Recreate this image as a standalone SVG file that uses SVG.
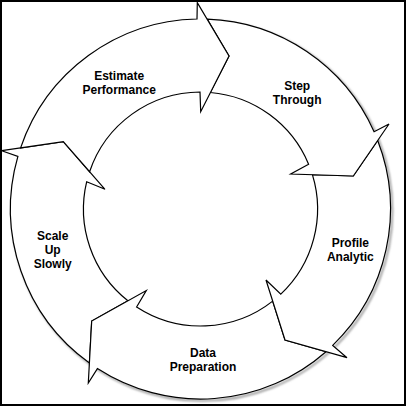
<svg xmlns="http://www.w3.org/2000/svg" width="406" height="406" viewBox="0 0 406 406">
<style>
.seg{fill:#fff;stroke:#000;stroke-width:1.2;stroke-linejoin:miter}
.lbl{font-family:"Liberation Sans",Arial,sans-serif;font-size:12px;font-weight:bold;text-anchor:middle;fill:#000}
</style>
<defs>
<filter id="blur" x="-10%" y="-10%" width="120%" height="120%"><feGaussianBlur stdDeviation="0.8"/></filter>
</defs>
<rect x="0" y="0" width="406" height="406" fill="#fff"/>
<circle cx="202.3" cy="210.8" r="190" fill="none" stroke="#999" stroke-width="2" filter="url(#blur)"/>
<g id="connectors">
<g id="scale-up-slowly">
<path class="seg" d="M 89.4,363.1 A 190 190 0 0 1 17.9,156.4 L 1.7,150.7 L 63.3,141.7 L 105,189.3 L 86.7,181.7 A 117 117 0 0 0 127.9,300.8 L 91.7,321 Z"/>
<text class="lbl" x="52.7" y="240.3">Scale</text>
<text class="lbl" x="52.7" y="254.3">Up</text>
<text class="lbl" x="52.7" y="268.3">Slowly</text>
</g>
<g id="data-preparation">
<path class="seg" d="M 326,351.7 A 190 190 0 0 1 97.4,368.6 L 88.3,383 L 91.7,321 L 146.3,290.5 L 136.6,307 A 117 117 0 0 0 272.7,301.1 L 285,340 Z"/>
<text class="lbl" x="203" y="356.8">Data</text>
<text class="lbl" x="203" y="370.8">Preparation</text>
</g>
<g id="profile-analytic">
<path class="seg" d="M 377.7,140.5 A 190 190 0 0 1 332.7,345.4 L 347,357.7 L 285,340 L 266,280 L 280.8,294.1 A 117 117 0 0 0 312.4,174.6 L 353.3,176 Z"/>
<text class="lbl" x="350.3" y="246.5">Profile</text>
<text class="lbl" x="350.3" y="260.5">Analytic</text>
</g>
<g id="step-through">
<path class="seg" d="M 207.2,19.1 A 190 190 0 0 1 374.1,131.7 L 389,124 L 353.3,176 L 290.7,174 L 308.6,164.2 A 117 117 0 0 0 210.3,92.5 L 229,56 Z"/>
<text class="lbl" x="297.2" y="89.5">Step</text>
<text class="lbl" x="297.2" y="103.5">Through</text>
</g>
<g id="estimate-performance">
<path class="seg" d="M 20.6,147.9 A 190 190 0 0 1 197,19 L 197.3,2.7 L 229,56 L 200.7,111.7 L 200,92 A 117 117 0 0 0 89.6,171.7 L 63.3,141.7 Z"/>
<text class="lbl" x="119.2" y="79.8">Estimate</text>
<text class="lbl" x="119.2" y="93.8">Performance</text>
</g>
</g>
<rect x="1" y="1" width="404" height="404" fill="none" stroke="#000" stroke-width="2"/>
</svg>
